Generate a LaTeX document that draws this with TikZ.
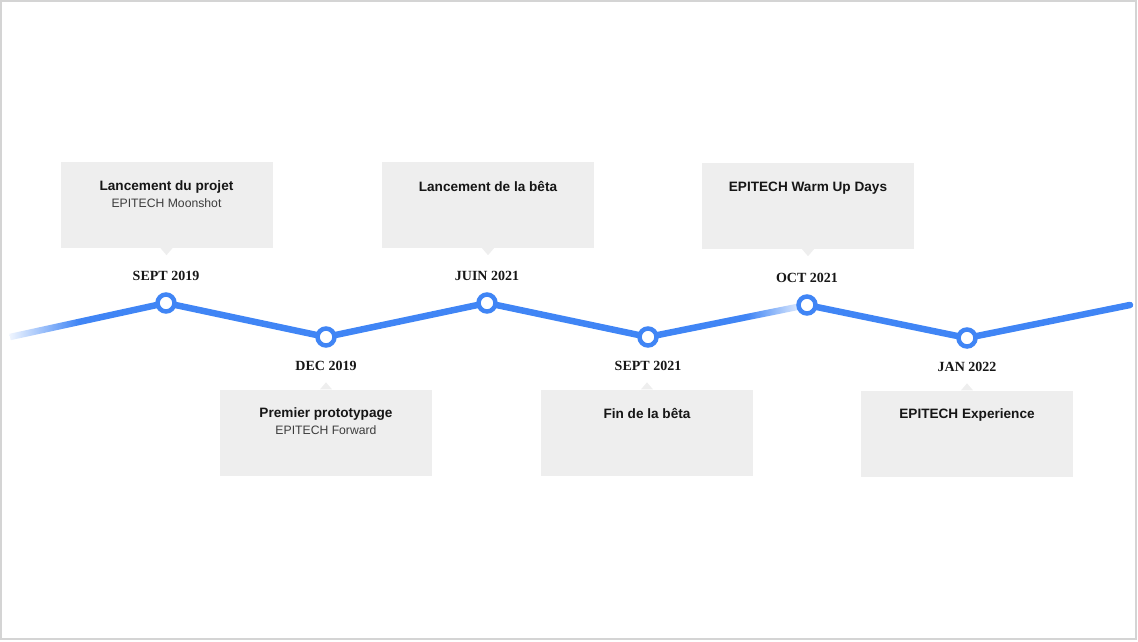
\documentclass[tikz,border=0pt]{standalone}
\usepackage{fontspec}
\setmainfont{Liberation Serif}
\setsansfont{Liberation Sans}
\usetikzlibrary{positioning,calc}
\definecolor{lineblue}{RGB}{64,133,245}
\definecolor{cardgray}{RGB}{238,238,238}
\definecolor{inkdark}{RGB}{22,22,22}
\definecolor{inksub}{RGB}{60,60,60}
\definecolor{framegray}{RGB}{212,212,212}
\pgfdeclarehorizontalshading{fadein}{100bp}{color(0bp)=(lineblue!8); color(25bp)=(lineblue!8); color(47bp)=(lineblue); color(100bp)=(lineblue)}
\pgfdeclarehorizontalshading{fadeout}{100bp}{color(0bp)=(lineblue); color(56bp)=(lineblue); color(73bp)=(lineblue!15); color(100bp)=(lineblue!15)}
\tikzset{
  track/.style={draw=lineblue, line width=6.5pt, line cap=round, line join=round},
  dot/.style={circle, draw=lineblue, fill=white, line width=4.5pt, minimum size=17pt, inner sep=0pt},
  date/.style={font=\bfseries\fontsize{14}{16}\selectfont, text=inkdark, inner sep=0pt},
  card/.style={fill=cardgray, minimum width=212pt, minimum height=86pt, inner sep=0pt},
  title/.style={font=\sffamily\bfseries\fontsize{13.6}{16}\selectfont, text=inkdark, inner sep=0pt},
  sub/.style={font=\sffamily\fontsize{12.2}{15}\selectfont, text=inksub, inner sep=0pt},
}
\begin{document}
\begin{tikzpicture}[
    x=1pt,y=-1pt
    ]
    \useasboundingbox (0,0) rectangle (1138,642);
    \draw[framegray, line width=1.5pt] (1,1) rectangle (1136,639);
    % track
    \coordinate (start) at (10,337);
    \coordinate (m1) at (166,303);
    \coordinate (m2) at (326,337);
    \coordinate (m3) at (487,303);
    \coordinate (m4) at (648,337);
    \coordinate (m5) at (807,305);
    \coordinate (m6) at (967,338);
    \coordinate (end) at (1130,305);
    \shade[shading=fadein] ($(start)!3.25pt!90:(m1)$) -- ($(m1)!3.25pt!-90:(start)$)
      -- ($(m1)!3.25pt!90:(start)$) -- ($(start)!3.25pt!-90:(m1)$) -- cycle;
    \draw[track] (m1) -- (m2) -- (m3) -- (m4);
    \shade[shading=fadeout] ($(m4)!3.25pt!90:(m5)$) -- ($(m5)!3.25pt!-90:(m4)$)
      -- ($(m5)!3.25pt!90:(m4)$) -- ($(m4)!3.25pt!-90:(m5)$) -- cycle;
    \draw[track] (m5) -- (m6) -- (end);
    \foreach \i in {1,...,6}
      \node[dot] (d\i) at (m\i) {};
    % dates
    \node[date, above=11pt of d1] (y1) {SEPT 2019};
    \node[date, below=13pt of d2] (y2) {DEC 2019};
    \node[date, above=11pt of d3] (y3) {JUIN 2021};
    \node[date, below=13pt of d4] (y4) {SEPT 2021};
    \node[date, above=11pt of d5] (y5) {OCT 2021};
    \node[date, below=13pt of d6] (y6) {JAN 2022};
    % cards
    \node[card] (c1) at (166.5,205) {};
    \node[card] (c2) at (326,432.5) {};
    \node[card] (c3) at (488,205) {};
    \node[card] (c4) at (647,432.5) {};
    \node[card] (c5) at (808,206) {};
    \node[card] (c6) at (967,433.5) {};
    \foreach \c in {c1,c3,c5}
      \fill[cardgray] ([xshift=-6pt]\c.south) -- ([yshift=-7pt]\c.south) -- ([xshift=6pt]\c.south) -- cycle;
    \foreach \c in {c2,c4,c6}
      \fill[cardgray] ([xshift=-6pt]\c.north) -- ([yshift=7pt]\c.north) -- ([xshift=6pt]\c.north) -- cycle;
    \node[title, below=19pt of c1.north] (t1) {Lancement du projet};
    \node[sub, anchor=base] (s1) at ([yshift=-17pt]t1.base) {EPITECH Moonshot};
    \node[title, below=18.5pt of c2.north] (t2) {Premier prototypage};
    \node[sub, anchor=base] (s2) at ([yshift=-17pt]t2.base) {EPITECH Forward};
    \node[title, below=19pt of c3.north] (t3) {Lancement de la bêta};
    \node[title, below=18.5pt of c4.north] (t4) {Fin de la bêta};
    \node[title, below=19pt of c5.north] (t5) {EPITECH Warm Up Days};
    \node[title, below=18.5pt of c6.north] (t6) {EPITECH Experience};
  \end{tikzpicture}
\end{document}
